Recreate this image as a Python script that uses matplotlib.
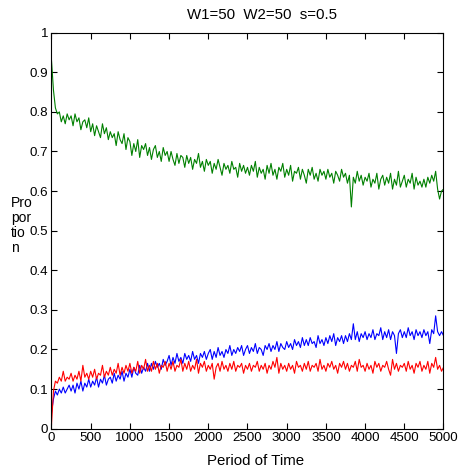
import matplotlib
matplotlib.use("Agg")
import matplotlib.pyplot as plt
import numpy as np

# time axis: one reading every 25 periods
periods = np.arange(0, 5001, 25)

green = [0.93, 0.855, 0.81, 0.795, 0.80, 0.775, 0.79, 0.77, 0.795, 0.78,
         0.79, 0.765, 0.795, 0.775, 0.785, 0.755, 0.775, 0.78, 0.76, 0.785,
         0.75, 0.77, 0.74, 0.765, 0.75, 0.735, 0.77, 0.745, 0.76, 0.73,
         0.75, 0.735, 0.745, 0.715, 0.75, 0.73, 0.72, 0.745, 0.705, 0.735,
         0.725, 0.69, 0.72, 0.70, 0.73, 0.685, 0.715, 0.705, 0.72, 0.69,
         0.71, 0.68, 0.705, 0.715, 0.685, 0.70, 0.675, 0.71, 0.69, 0.70,
         0.675, 0.70, 0.68, 0.665, 0.695, 0.67, 0.69, 0.685, 0.66, 0.69,
         0.67, 0.685, 0.655, 0.68, 0.67, 0.695, 0.66, 0.675, 0.65, 0.68,
         0.665, 0.675, 0.645, 0.67, 0.655, 0.68, 0.66, 0.64, 0.67, 0.655,
         0.665, 0.645, 0.675, 0.655, 0.66, 0.635, 0.67, 0.65, 0.665, 0.645,
         0.66, 0.64, 0.665, 0.65, 0.675, 0.635, 0.66, 0.645, 0.655, 0.63,
         0.665, 0.645, 0.67, 0.64, 0.655, 0.63, 0.66, 0.65, 0.67, 0.635,
         0.655, 0.64, 0.665, 0.625, 0.65, 0.645, 0.66, 0.63, 0.655, 0.64,
         0.62, 0.655, 0.64, 0.66, 0.63, 0.645, 0.625, 0.655, 0.64, 0.65,
         0.63, 0.655, 0.635, 0.645, 0.62, 0.65, 0.64, 0.625, 0.655, 0.635,
         0.645, 0.62, 0.64, 0.56, 0.635, 0.62, 0.65, 0.625, 0.64, 0.615,
         0.635, 0.625, 0.645, 0.61, 0.63, 0.62, 0.645, 0.605, 0.63, 0.64,
         0.615, 0.635, 0.62, 0.645, 0.605, 0.63, 0.615, 0.65, 0.61, 0.625,
         0.64, 0.61, 0.63, 0.62, 0.645, 0.605, 0.635, 0.615, 0.625, 0.61,
         0.63, 0.61, 0.635, 0.62, 0.64, 0.625, 0.65, 0.605, 0.58, 0.60,
         0.605]

blue = [0.04, 0.075, 0.095, 0.085, 0.10, 0.09, 0.105, 0.09, 0.10, 0.11,
        0.095, 0.11, 0.09, 0.115, 0.10, 0.12, 0.095, 0.115, 0.105, 0.125,
        0.105, 0.12, 0.11, 0.13, 0.105, 0.125, 0.115, 0.135, 0.11, 0.125,
        0.13, 0.115, 0.14, 0.12, 0.135, 0.125, 0.145, 0.12, 0.14, 0.13,
        0.15, 0.13, 0.155, 0.14, 0.135, 0.16, 0.14, 0.155, 0.145, 0.165,
        0.145, 0.165, 0.15, 0.17, 0.155, 0.165, 0.15, 0.175, 0.16, 0.17,
        0.185, 0.16, 0.18, 0.165, 0.19, 0.17, 0.18, 0.165, 0.19, 0.175,
        0.185, 0.17, 0.195, 0.175, 0.185, 0.165, 0.19, 0.18, 0.195, 0.175,
        0.19, 0.20, 0.175, 0.195, 0.18, 0.205, 0.185, 0.195, 0.18, 0.20,
        0.19, 0.21, 0.185, 0.20, 0.19, 0.205, 0.195, 0.21, 0.185, 0.20,
        0.21, 0.19, 0.205, 0.195, 0.215, 0.19, 0.205, 0.20, 0.185, 0.21,
        0.20, 0.215, 0.195, 0.21, 0.20, 0.22, 0.195, 0.215, 0.205, 0.20,
        0.22, 0.205, 0.215, 0.20, 0.225, 0.21, 0.22, 0.205, 0.23, 0.21,
        0.225, 0.21, 0.23, 0.215, 0.22, 0.205, 0.235, 0.215, 0.225, 0.21,
        0.23, 0.215, 0.235, 0.22, 0.24, 0.21, 0.23, 0.22, 0.235, 0.215,
        0.235, 0.22, 0.24, 0.225, 0.265, 0.225, 0.245, 0.22, 0.24, 0.23,
        0.245, 0.225, 0.24, 0.23, 0.25, 0.225, 0.24, 0.235, 0.255, 0.225,
        0.245, 0.23, 0.25, 0.225, 0.245, 0.235, 0.19, 0.24, 0.25, 0.23,
        0.245, 0.23, 0.255, 0.235, 0.245, 0.225, 0.25, 0.235, 0.245, 0.23,
        0.25, 0.235, 0.245, 0.215, 0.25, 0.24, 0.285, 0.245, 0.235, 0.245,
        0.235]

red = [0.01, 0.095, 0.12, 0.115, 0.13, 0.12, 0.145, 0.12, 0.13, 0.125,
       0.14, 0.12, 0.135, 0.125, 0.145, 0.12, 0.16, 0.13, 0.14, 0.125,
       0.145, 0.13, 0.15, 0.125, 0.14, 0.135, 0.16, 0.13, 0.145, 0.135,
       0.155, 0.135, 0.15, 0.14, 0.165, 0.135, 0.155, 0.14, 0.16, 0.145,
       0.165, 0.14, 0.155, 0.145, 0.17, 0.14, 0.16, 0.15, 0.175, 0.145,
       0.16, 0.145, 0.17, 0.15, 0.165, 0.14, 0.16, 0.155, 0.17, 0.145,
       0.165, 0.15, 0.17, 0.145, 0.16, 0.155, 0.175, 0.145, 0.165, 0.15,
       0.17, 0.145, 0.16, 0.15, 0.175, 0.14, 0.165, 0.155, 0.17, 0.145,
       0.16, 0.15, 0.165, 0.125, 0.155, 0.165, 0.145, 0.17, 0.15, 0.16,
       0.145, 0.165, 0.15, 0.17, 0.145, 0.16, 0.155, 0.165, 0.14, 0.16,
       0.15, 0.165, 0.145, 0.16, 0.155, 0.17, 0.145, 0.16, 0.15, 0.165,
       0.14, 0.16, 0.15, 0.17, 0.155, 0.18, 0.14, 0.165, 0.15, 0.16,
       0.145, 0.165, 0.15, 0.16, 0.14, 0.17, 0.155, 0.16, 0.145, 0.165,
       0.15, 0.17, 0.145, 0.16, 0.155, 0.165, 0.145, 0.175, 0.15, 0.16,
       0.145, 0.165, 0.155, 0.17, 0.15, 0.16, 0.14, 0.165, 0.155, 0.17,
       0.15, 0.165, 0.145, 0.16, 0.155, 0.17, 0.145, 0.175, 0.155, 0.16,
       0.145, 0.165, 0.15, 0.16, 0.14, 0.17, 0.155, 0.165, 0.145, 0.16,
       0.155, 0.17, 0.15, 0.135, 0.175, 0.15, 0.165, 0.145, 0.16, 0.155,
       0.165, 0.145, 0.17, 0.15, 0.16, 0.14, 0.165, 0.155, 0.17, 0.145,
       0.16, 0.15, 0.17, 0.14, 0.165, 0.155, 0.18, 0.15, 0.16, 0.145,
       0.155]

xticks = list(range(0, 5001, 500))
yticks = [0, 0.1, 0.2, 0.3, 0.4, 0.5, 0.6, 0.7, 0.8, 0.9, 1]
ytick_labels = ['0', '0.1', '0.2', '0.3', '0.4', '0.5', '0.6', '0.7', '0.8', '0.9', '1']
ylabel_parts = ['Pro', 'por', 'tio', 'n']

plt.rcParams['font.family'] = ['Liberation Sans', 'DejaVu Sans']
plt.rcParams['font.size'] = 10.8

fig = plt.figure(figsize=(4.66, 4.74), dpi=100)
ax = fig.add_axes([0.1105, 0.0956, 0.8412, 0.8354])

ax.plot(periods, green, color='#008000', linewidth=0.8)
ax.plot(periods, blue, color='#0000ff', linewidth=0.8)
ax.plot(periods, red, color='#ff0000', linewidth=0.8)

ax.set_xlim(0, 5000)
ax.set_ylim(0, 1)
ax.set_xticks(xticks)
ax.set_yticks(yticks)
ax.set_yticklabels(ytick_labels)

# matlab-ish box with inward ticks on all sides
ax.tick_params(direction='in', top=True, right=True, length=4, width=0.8,
               pad=2.5, labelsize=9.6)
for sp in ax.spines.values():
    sp.set_linewidth(0.8)

fig.text(262 / 466, 1 - 15 / 474, 'W1=50  W2=50  s=0.5', ha='center', va='center')
fig.text(256 / 466, 1 - 461 / 474, 'Period of Time', ha='center', va='center')

# the wrapped y label, one line at a time (baselines ~15 px apart)
for i, part in enumerate(ylabel_parts):
    fig.text(11 / 466, 1 - (207 + 15 * i) / 474, part, ha='left', va='baseline', fontsize=10)

fig.savefig('out.png', dpi=100)
